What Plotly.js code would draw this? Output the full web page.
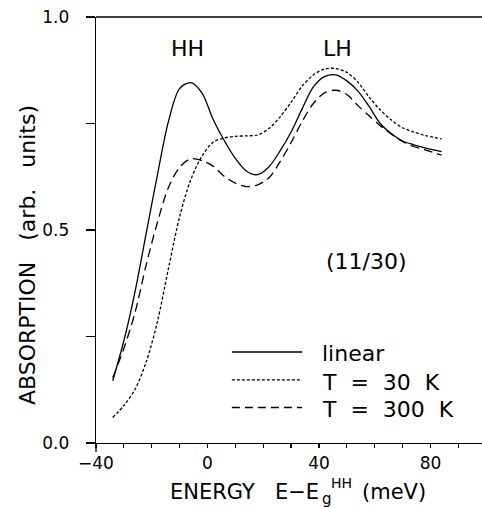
<!DOCTYPE html>
<html>
<head>
<meta charset="utf-8">
<script src="https://cdn.plot.ly/plotly-3.0.1.min.js"></script>
<style>
  html, body { margin: 0; padding: 0; background: #fff; }
  #chart { width: 482px; height: 508px; }
</style>
</head>
<body>
<div id="chart"></div>
<script>
// Energy E - Eg(HH) in meV
const energy = [-34,-30,-26,-22,-18,-14,-10,-6,-2,2,6,10,14,18,22,26,30,34,38,42,46,50,54,58,62,66,70,74,78,84];
// Absorption (arb. units)
const linearAbs = [0.146,0.240,0.355,0.492,0.628,0.755,0.832,0.846,0.822,0.760,0.710,0.668,0.638,0.630,0.648,0.685,0.730,0.785,0.836,0.860,0.864,0.850,0.826,0.790,0.750,0.726,0.709,0.700,0.693,0.684];
const abs30K = [0.060,0.088,0.126,0.190,0.284,0.410,0.531,0.618,0.673,0.706,0.716,0.720,0.721,0.723,0.738,0.765,0.800,0.838,0.864,0.878,0.879,0.870,0.847,0.812,0.782,0.758,0.740,0.730,0.722,0.714];
const abs300K = [0.153,0.222,0.306,0.418,0.517,0.600,0.647,0.667,0.663,0.650,0.626,0.610,0.602,0.606,0.622,0.660,0.705,0.755,0.797,0.822,0.828,0.818,0.792,0.768,0.745,0.725,0.708,0.696,0.688,0.676];

const seriesNames = ['linear', 'T\u00a0\u00a0=\u00a0\u00a030\u00a0\u00a0K', 'T\u00a0\u00a0=\u00a0\u00a0300\u00a0\u00a0K'];

const xTickVals = [-40, 0, 40, 80];
const xTickText = ['\u221240', '0', '40', '80'];
const xMinorTicks = [-30,-20,-10,10,20,30,50,60,70,90];
const yTickVals = [0, 0.5, 1.0];
const yTickText = ['0.0', '0.5', '1.0'];
const yMinorTicks = [0.25, 0.75];

const peakLabels = ['HH', 'LH'];
const peakLabelX = [-7, 46.5];
const peakLabelY = [0.927, 0.927];

// x-axis title pieces: main text, subscript, superscript, unit
const xTitleParts = ['ENERGY\u00a0\u00a0\u00a0E\u2212E', 'g', 'HH', '(meV)'];
const yTitleText = 'ABSORPTION\u00a0\u00a0\u00a0(arb.\u00a0\u00a0\u00a0units)';

const FONT = 'DejaVu Sans, Liberation Sans, sans-serif';
const LW = 1.3;

const traces = [
  {x: energy, y: linearAbs, name: seriesNames[0], mode: 'lines',
   line: {color: '#000', width: LW, shape: 'spline', smoothing: 0.9}},
  {x: energy, y: abs30K, name: seriesNames[1], mode: 'lines',
   line: {color: '#000', width: LW, shape: 'spline', smoothing: 0.9, dash: '3px,2px'}},
  {x: energy, y: abs300K, name: seriesNames[2], mode: 'lines',
   line: {color: '#000', width: LW, shape: 'spline', smoothing: 0.9, dash: '9px,5px'}}
];

// legend built from shapes + annotations (paper coords)
const legY = [0.2136, 0.148, 0.0833];
const legTextY = [0.211, 0.142, 0.0775];
const legDash = ['solid', '3px,2px', '8px,5px'];

const shapes = [
  // top frame line
  {type: 'line', xref: 'paper', yref: 'paper', x0: 0, x1: 1, y0: 1, y1: 1,
   line: {color: '#000', width: 1.3}},
  // y-axis extension below the x-axis
  {type: 'line', xref: 'paper', yref: 'paper', x0: 0, x1: 0, y0: 0, y1: -9/426,
   line: {color: '#000', width: 1.3}}
];
const annotations = [];
function txt(o) {
  annotations.push(Object.assign({showarrow: false, xref: 'paper', yref: 'paper'}, o));
}
for (let i = 0; i < 3; i++) {
  shapes.push({type: 'line', xref: 'paper', yref: 'paper', x0: 0.352, x1: 0.534,
    y0: legY[i], y1: legY[i], line: {color: '#000', width: LW, dash: legDash[i]}});
  txt({x: 0.580, y: legTextY[i], xanchor: 'left', yanchor: 'middle', text: seriesNames[i],
    font: {family: FONT, size: 22, color: '#000'}});
}
for (let i = 0; i < peakLabels.length; i++) {
  annotations.push({x: peakLabelX[i], y: peakLabelY[i], text: peakLabels[i],
    showarrow: false, xanchor: 'center', yanchor: 'middle',
    font: {family: FONT, size: 22, color: '#000'}});
}
annotations.push({x: 57.2, y: 0.425, text: '(11/30)', showarrow: false,
  xanchor: 'center', yanchor: 'middle', font: {family: FONT, size: 22, color: '#000'}});
// y-axis title
txt({x: -69/386, y: (443-255)/426, text: yTitleText, textangle: -90,
  xanchor: 'center', yanchor: 'middle', font: {family: FONT, size: 22, color: '#000'}});
// x-axis title (E - E_g^HH assembled from pieces)
txt({x: (321-96)/386, y: (443-492)/426, text: xTitleParts[0], xanchor: 'right', yanchor: 'middle',
  font: {family: FONT, size: 21, color: '#000'}});
txt({x: (320-96)/386, y: (443-499)/426, text: xTitleParts[1], xanchor: 'left', yanchor: 'middle',
  font: {family: FONT, size: 15, color: '#000'}});
txt({x: (329-96)/386, y: (443-483)/426, text: xTitleParts[2], xanchor: 'left', yanchor: 'middle',
  font: {family: FONT, size: 14, color: '#000'}});
txt({x: (360-96)/386, y: (443-492)/426, text: xTitleParts[3], xanchor: 'left', yanchor: 'middle',
  font: {family: FONT, size: 21, color: '#000'}});

const layout = {
  width: 482, height: 508,
  margin: {l: 96, r: 0, t: 17, b: 65, pad: 0},
  paper_bgcolor: '#fff', plot_bgcolor: '#fff',
  showlegend: false,
  font: {family: FONT, color: '#000'},
  xaxis: {
    range: [-40, 98.5], showgrid: false, zeroline: false,
    showline: true, linecolor: '#000', linewidth: 1.3,
    ticks: 'outside', ticklen: 4, tickwidth: 1.2, tickcolor: '#000',
    tickmode: 'array', tickvals: xTickVals, ticktext: xTickText,
    minor: {tickmode: 'array', tickvals: xMinorTicks, ticks: 'outside', ticklen: 4, tickwidth: 1.2, tickcolor: '#000', showgrid: false},
    tickfont: {family: FONT, size: 17, color: '#000'}
  },
  yaxis: {
    range: [0, 1], showgrid: false, zeroline: false,
    showline: true, linecolor: '#000', linewidth: 1.3,
    ticks: 'outside', ticklen: 9, tickwidth: 1.2, tickcolor: '#000',
    tickmode: 'array', tickvals: yTickVals, ticktext: yTickText,
    minor: {tickmode: 'array', tickvals: yMinorTicks, ticks: 'outside', ticklen: 9, tickwidth: 1.2, tickcolor: '#000', showgrid: false},
    ticklabelstandoff: 13,
    tickfont: {family: FONT, size: 17, color: '#000'}
  },
  shapes: shapes,
  annotations: annotations
};

Plotly.newPlot('chart', traces, layout, {staticPlot: true, displayModeBar: false});
</script>
</body>
</html>
